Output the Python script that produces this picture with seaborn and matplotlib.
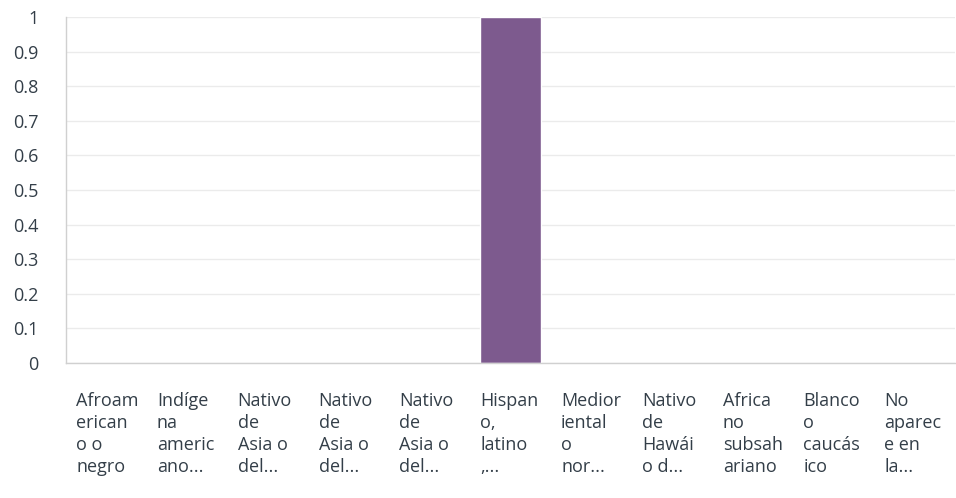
import matplotlib
matplotlib.use('Agg')
import matplotlib.pyplot as plt
import matplotlib.transforms as mtransforms
import seaborn as sns
import pandas as pd

categories = ['Afroam\nerican\no o\nnegro', 'Indíge\nna\nameric\nano...',
              'Nativo\nde\nAsia o\ndel...', 'Nativo\nde\nAsia o\ndel...',
              'Nativo\nde\nAsia o\ndel...', 'Hispan\no,\nlatino\n,...',
              'Medior\niental\no\nnor...', 'Nativo\nde\nHawái\no d...',
              'Africa\nno\nsubsah\nariano', 'Blanco\no\ncaucás\nico',
              'No\naparec\ne en\nla...']
values = [0, 0, 0, 0, 0, 1, 0, 0, 0, 0, 0]
yticks = [0, 0.1, 0.2, 0.3, 0.4, 0.5, 0.6, 0.7, 0.8, 0.9, 1]

df = pd.DataFrame({'cat': range(len(categories)), 'val': values})

sns.set_style('white')
plt.rcParams['font.family'] = ['Open Sans', 'DejaVu Sans']
text_color = '#333e48'

fig = plt.figure(figsize=(9.56, 4.98), dpi=100)
ax = fig.add_axes([66 / 956, 1 - 363 / 498, 889 / 956, 346 / 498])

sns.barplot(data=df, x='cat', y='val', color='#7d5a8e', saturation=1,
            width=0.75, ax=ax)

ax.set_ylim(0, 1)
ax.set_yticks(yticks)
ax.set_yticklabels([f'{v:g}' for v in yticks], fontsize=13, color=text_color)
ax.yaxis.grid(True, color='#ebebeb', linewidth=1)
ax.set_axisbelow(True)
ax.tick_params(axis='both', length=0)
ax.tick_params(axis='y', pad=20)

# category labels, left aligned at the bar's left edge
ax.set_xticks(range(len(categories)))
ax.set_xticklabels([])
trans = mtransforms.blended_transform_factory(ax.transData, ax.transAxes)
for i, lab in enumerate(categories):
    ax.text(i - 0.375, -0.085, lab, transform=trans, ha='left', va='top',
            fontsize=13, color=text_color, linespacing=1.27, clip_on=False)

ax.set_xlabel('')
ax.set_ylabel('')
for s in ['top', 'right']:
    ax.spines[s].set_visible(False)
for s in ['left', 'bottom']:
    ax.spines[s].set_color('#d0d0d0')
    ax.spines[s].set_linewidth(1)

plt.savefig('out.png', dpi=100)
